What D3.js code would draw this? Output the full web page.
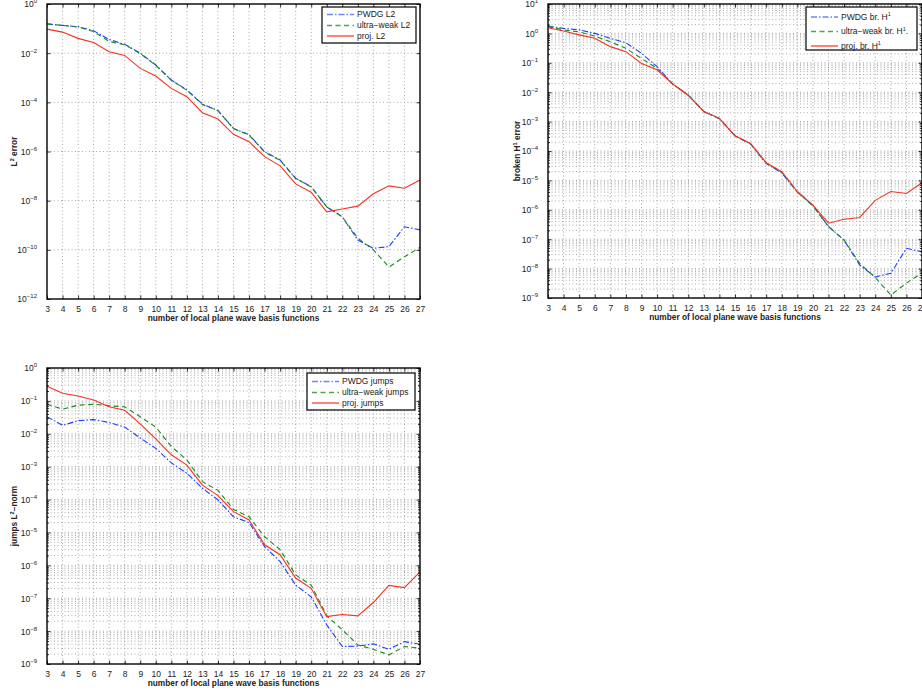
<!DOCTYPE html>
<html>
<head>
<meta charset="utf-8">
<script src="https://cdn.jsdelivr.net/npm/d3@7"></script>
<style>
  body { margin: 0; background: #fff; }
  svg { display: block; font-family: "Liberation Sans", Arial, sans-serif; }
</style>
</head>
<body>
<svg id="chart" width="922" height="692"></svg>
<script>
// number of local plane wave basis functions
const basisCounts = d3.range(3, 28);

// L2 error panel
const pwdgL2 = [1.55e-1, 1.35e-1, 1.2e-1, 8.1e-2, 3.6e-2, 2.3e-2, 1.0e-2, 3.3e-3, 8.1e-4, 3.2e-4, 8.5e-5, 4.6e-5, 8.7e-6, 4.8e-6, 9.8e-7, 4.5e-7, 8.1e-8, 3.7e-8, 5.6e-9, 2.2e-9, 2.5e-10, 1.15e-10, 1.35e-10, 8.7e-10, 6.5e-10];
const ultraWeakL2 = [1.55e-1, 1.35e-1, 1.15e-1, 7.6e-2, 3.0e-2, 2.2e-2, 9.6e-3, 3.2e-3, 7.9e-4, 3.1e-4, 8.2e-5, 4.6e-5, 8.5e-6, 4.7e-6, 9.5e-7, 4.4e-7, 8.0e-8, 3.6e-8, 5.6e-9, 2.2e-9, 3.0e-10, 1.0e-10, 2.0e-11, 5.2e-11, 1.26e-10];
const projL2 = [9.5e-2, 7.2e-2, 4.0e-2, 2.7e-2, 1.15e-2, 8.1e-3, 2.4e-3, 1.17e-3, 3.7e-4, 1.7e-4, 3.8e-5, 2.1e-5, 5.0e-6, 2.5e-6, 6.2e-7, 2.6e-7, 4.8e-8, 2.2e-8, 3.5e-9, 4.6e-9, 6.0e-9, 1.9e-8, 4.0e-8, 3.2e-8, 6.9e-8];

// broken H1 error panel
const pwdgH1 = [1.78, 1.48, 1.32, 1.0, 0.68, 0.48, 0.21, 0.074, 0.019, 7.9e-3, 2.2e-3, 1.25e-3, 3.3e-4, 1.7e-4, 3.8e-5, 1.8e-5, 4.0e-6, 1.4e-6, 2.7e-7, 9.3e-8, 1.32e-8, 5.2e-9, 6.9e-9, 4.9e-8, 3.7e-8];
const ultraWeakH1 = [1.7, 1.32, 1.12, 0.81, 0.52, 0.31, 0.14, 0.065, 0.019, 7.9e-3, 2.2e-3, 1.27e-3, 3.3e-4, 1.75e-4, 3.9e-5, 1.9e-5, 4.1e-6, 1.35e-6, 2.7e-7, 9.3e-8, 1.5e-8, 5.0e-9, 1.26e-9, 3.2e-9, 7.2e-9];
const projH1 = [1.56, 1.2, 0.89, 0.68, 0.355, 0.24, 0.095, 0.058, 0.019, 7.9e-3, 2.2e-3, 1.29e-3, 3.3e-4, 1.8e-4, 4.0e-5, 2.0e-5, 4.2e-6, 1.45e-6, 3.5e-7, 4.8e-7, 5.5e-7, 2.1e-6, 4.2e-6, 3.6e-6, 8.3e-6];

// jumps L2-norm panel
const pwdgJumps = [0.033, 0.018, 0.025, 0.027, 0.022, 0.016, 7.4e-3, 3.6e-3, 1.3e-3, 6.3e-4, 2.2e-4, 9.8e-5, 3.0e-5, 2.0e-5, 3.7e-6, 1.3e-6, 2.5e-7, 1.1e-7, 1.55e-8, 3.4e-9, 3.5e-9, 4.1e-9, 2.8e-9, 4.8e-9, 4.0e-9];
const ultraWeakJumps = [0.079, 0.056, 0.074, 0.079, 0.071, 0.066, 0.033, 0.016, 4.1e-3, 1.6e-3, 3.5e-4, 1.9e-4, 5.0e-5, 3.0e-5, 7.4e-6, 3.0e-6, 5.1e-7, 2.5e-7, 2.9e-8, 1.1e-8, 3.8e-9, 2.8e-9, 1.9e-9, 3.4e-9, 3.0e-9];
const projJumps = [0.28, 0.17, 0.14, 0.107, 0.066, 0.052, 0.02, 7.0e-3, 2.3e-3, 1.12e-3, 2.75e-4, 1.32e-4, 4.3e-5, 2.4e-5, 4.2e-6, 2.1e-6, 4.1e-7, 2.0e-7, 2.75e-8, 3.2e-8, 2.9e-8, 7.4e-8, 2.45e-7, 2.1e-7, 6.3e-7];

// tick label exponents
const l2TickExps = [0, -2, -4, -6, -8, -10, -12];
const h1TickExps = [1, 0, -1, -2, -3, -4, -5, -6, -7, -8, -9];
const jumpTickExps = [0, -1, -2, -3, -4, -5, -6, -7, -8, -9];

const seriesStyle = {
  pwdg:  { color: "#1f3dff", dash: "6,2,1.5,2", legend: "#6f86ff" },
  ultra: { color: "#17891a", dash: "5,3.5", legend: "#45a845" },
  proj:  { color: "#f5301e", dash: null, legend: "#f87060" }
};

const svg = d3.select("#chart");

function supLabel(sel, exp) {
  sel.text("10");
  sel.append("tspan")
    .attr("dy", -4)
    .attr("font-size", 6)
    .text(exp === 0 ? "0" : (exp < 0 ? "\u2212" : "") + Math.abs(exp));
}

function drawPanel(cfg) {
  const w = cfg.right - cfg.left;
  const h = cfg.bottom - cfg.top;
  const g = svg.append("g").attr("transform", `translate(${cfg.left},${cfg.top})`);

  const x = d3.scaleLinear().domain([3, 27]).range([0, w]);
  const y = d3.scaleLog().domain(cfg.yDomain).range([h, 0]);

  const majors = cfg.tickExps.map(e => Math.pow(10, e));
  let minors = [];
  if (cfg.minor) {
    const lo = Math.round(Math.log10(cfg.yDomain[0]));
    const hi = Math.round(Math.log10(cfg.yDomain[1]));
    for (let e = lo; e < hi; e++) {
      for (let m = 2; m <= 9; m++) minors.push(m * Math.pow(10, e));
    }
  }

  // grid
  const grid = g.append("g").attr("stroke", "#959595").attr("stroke-width", 0.8).attr("stroke-dasharray", "1,2.5");
  grid.selectAll("line.vx").data(basisCounts.slice(1, -1)).join("line")
    .attr("x1", d => x(d)).attr("x2", d => x(d)).attr("y1", 0).attr("y2", h);
  grid.selectAll("line.hy").data(majors.concat(minors).filter(v => v > cfg.yDomain[0] && v < cfg.yDomain[1])).join("line")
    .attr("x1", 0).attr("x2", w).attr("y1", d => y(d)).attr("y2", d => y(d));

  // series
  const line = d3.line().x((d, i) => x(basisCounts[i])).y(d => y(d));
  cfg.series.forEach(s => {
    g.append("path")
      .attr("d", line(s.values))
      .attr("fill", "none")
      .attr("stroke", seriesStyle[s.kind].color)
      .attr("stroke-width", 1.1)
      .attr("stroke-dasharray", seriesStyle[s.kind].dash);
  });

  // axes with inward ticks
  const bottomAxis = g.append("g").attr("transform", `translate(0,${h})`)
    .call(d3.axisBottom(x).tickValues(basisCounts).tickSize(-3.5).tickPadding(7).tickFormat(d3.format("d")));
  g.append("g").call(d3.axisTop(x).tickValues(basisCounts).tickSize(-3.5).tickFormat(""));
  const leftAxis = g.append("g")
    .call(d3.axisLeft(y).tickValues(majors).tickSize(-3.5).tickPadding(9).tickFormat(""));
  g.append("g").attr("transform", `translate(${w},0)`)
    .call(d3.axisRight(y).tickValues(majors).tickSize(-3.5).tickFormat(""));
  if (minors.length) {
    g.append("g").call(d3.axisLeft(y).tickValues(minors).tickSize(-2).tickFormat(""));
    g.append("g").attr("transform", `translate(${w},0)`)
      .call(d3.axisRight(y).tickValues(minors).tickSize(-2).tickFormat(""));
  }
  g.selectAll(".domain").remove();
  g.selectAll(".tick line").attr("stroke", "#000").attr("stroke-width", 0.8);
  bottomAxis.selectAll("text").attr("font-size", 8.5).attr("fill", "#222");

  leftAxis.selectAll(".tick text")
    .attr("x", -10).attr("dy", "0.35em").attr("font-size", 8.5).attr("fill", "#222")
    .attr("text-anchor", "end")
    .each(function (d) { supLabel(d3.select(this), Math.round(Math.log10(d))); });

  // frame
  g.append("rect").attr("width", w).attr("height", h)
    .attr("fill", "none").attr("stroke", "#000").attr("stroke-width", 1.4);

  // axis titles
  g.append("text")
    .attr("x", w / 2).attr("y", h + 22)
    .attr("text-anchor", "middle").attr("font-size", 8.3).attr("font-weight", "bold").attr("fill", "#222")
    .text("number of local plane wave basis functions");
  const yt = g.append("text")
    .attr("transform", `translate(${cfg.yTitleX - cfg.left},${h / 2}) rotate(-90)`)
    .attr("text-anchor", "middle").attr("font-size", 8.3).attr("font-weight", "bold").attr("fill", "#222");
  cfg.yTitle.forEach(part => {
    const t = yt.append("tspan").text(part.t);
    if (part.sup) t.attr("dy", -3.5).attr("font-size", 5.5);
    if (part.down) t.attr("dy", 3.5);
  });

  // legend
  const lg = svg.append("g").attr("transform", `translate(${cfg.legend.x},${cfg.legend.y})`);
  lg.append("rect").attr("width", cfg.legend.w).attr("height", cfg.legend.h)
    .attr("fill", "#fff").attr("stroke", "#000").attr("stroke-width", 1.2);
  cfg.series.forEach((s, i) => {
    const yy = cfg.legend.rowY[i];
    lg.append("line").attr("x1", 5).attr("x2", 32).attr("y1", yy).attr("y2", yy)
      .attr("stroke", seriesStyle[s.kind].legend).attr("stroke-width", 1.7)
      .attr("stroke-dasharray", seriesStyle[s.kind].dash);
    const t = lg.append("text").attr("x", 35).attr("y", yy).attr("dy", "0.35em")
      .attr("font-size", 8.5).attr("fill", "#222");
    s.label.forEach(part => {
      const sp = t.append("tspan").text(part.t);
      if (part.sup) sp.attr("dy", -3.5).attr("font-size", 5.5);
      if (part.down) sp.attr("dy", 3.5);
    });
  });
}

drawPanel({
  left: 47, right: 420, top: 4, bottom: 299,
  yDomain: [1e-12, 1], tickExps: l2TickExps, minor: false,
  yTitleX: 17,
  yTitle: [{ t: "L" }, { t: "2", sup: true }, { t: " error", down: true }],
  legend: { x: 322, y: 7, w: 94, h: 36, rowY: [7.5, 18.5, 29] },
  series: [
    { kind: "pwdg", values: pwdgL2, label: [{ t: "PWDG L2" }] },
    { kind: "ultra", values: ultraWeakL2, label: [{ t: "ultra\u2212weak L2" }] },
    { kind: "proj", values: projL2, label: [{ t: "proj. L2" }] }
  ]
});

drawPanel({
  left: 548, right: 922, top: 4, bottom: 298,
  yDomain: [1e-9, 10], tickExps: h1TickExps, minor: true,
  yTitleX: 520,
  yTitle: [{ t: "broken H" }, { t: "1", sup: true }, { t: " error", down: true }],
  legend: { x: 806, y: 7, w: 111, h: 43, rowY: [10, 24.5, 39] },
  series: [
    { kind: "pwdg", values: pwdgH1, label: [{ t: "PWDG br. H" }, { t: "1", sup: true }] },
    { kind: "ultra", values: ultraWeakH1, label: [{ t: "ultra\u2212weak br. H" }, { t: "1", sup: true }, { t: ".", down: true }] },
    { kind: "proj", values: projH1, label: [{ t: "proj. br. H" }, { t: "1", sup: true }] }
  ]
});

drawPanel({
  left: 47, right: 420, top: 368, bottom: 664,
  yDomain: [1e-9, 1], tickExps: jumpTickExps, minor: true,
  yTitleX: 17,
  yTitle: [{ t: "jumps L" }, { t: "2", sup: true }, { t: "\u2212norm", down: true }],
  legend: { x: 307, y: 373, w: 108, h: 37, rowY: [8.5, 19.5, 30] },
  series: [
    { kind: "pwdg", values: pwdgJumps, label: [{ t: "PWDG jumps" }] },
    { kind: "ultra", values: ultraWeakJumps, label: [{ t: "ultra\u2212weak jumps" }] },
    { kind: "proj", values: projJumps, label: [{ t: "proj. jumps" }] }
  ]
});
</script>
</body>
</html>
